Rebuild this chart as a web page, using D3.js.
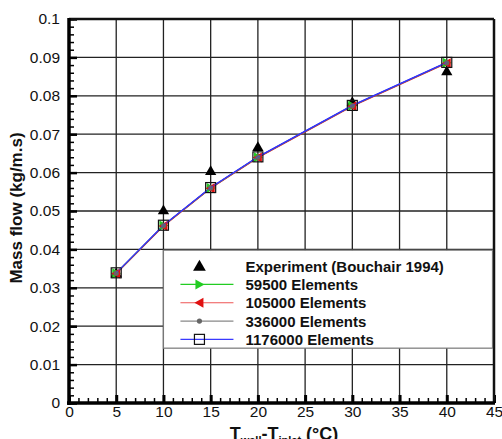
<!DOCTYPE html>
<html>
<head>
<meta charset="utf-8">
<script src="https://cdn.jsdelivr.net/npm/d3@7"></script>
<style>
  body { margin: 0; background: #fff; }
  svg { display: block; font-family: "Liberation Sans", Arial, sans-serif; }
</style>
</head>
<body>
<svg width="502" height="439"></svg>
<script>
// Data
var tempDiff = [5, 10, 15, 20, 30, 40];
var experiment = [0.0336, 0.0500, 0.0602, 0.0665, 0.0782, 0.0862];
var elem59500 = [0.0338, 0.0462, 0.0560, 0.0640, 0.0774, 0.0886];
var elem105000 = [0.0337, 0.0461, 0.0559, 0.0639, 0.0773, 0.0885];
var elem336000 = [0.0338, 0.0462, 0.0560, 0.0640, 0.0774, 0.0886];
var elem1176000 = [0.0339, 0.0463, 0.0561, 0.0641, 0.0775, 0.0887];
var xTicks = [0, 5, 10, 15, 20, 25, 30, 35, 40, 45];
var yTicks = [0, 0.01, 0.02, 0.03, 0.04, 0.05, 0.06, 0.07, 0.08, 0.09, 0.1];
var legendNames = ["Experiment (Bouchair 1994)", "59500 Elements", "105000 Elements", "336000 Elements", "1176000 Elements"];

var svg = d3.select('svg');
var padding = {t: 19, r: 8, b: 36, l: 69};
var chartWidth = 494 - padding.l;
var chartHeight = 403 - padding.t;

var chartG = svg.append('g')
    .attr('transform', 'translate(' + [padding.l, padding.t] + ')');

var xScale = d3.scaleLinear().domain([0, 45]).range([0, chartWidth]);
var yScale = d3.scaleLinear().domain([0, 0.1]).range([chartHeight, 0]);

// grid lines
chartG.append('g').selectAll('line.vg')
    .data(xTicks.slice(1, -1))
    .enter().append('line')
    .attr('x1', d => xScale(d)).attr('x2', d => xScale(d))
    .attr('y1', 0).attr('y2', chartHeight)
    .attr('stroke', '#222').attr('stroke-width', 1.3);
chartG.append('g').selectAll('line.hg')
    .data(yTicks.slice(1, -1))
    .enter().append('line')
    .attr('y1', d => yScale(d)).attr('y2', d => yScale(d))
    .attr('x1', 0).attr('x2', chartWidth)
    .attr('stroke', '#222').attr('stroke-width', 1.3);

// axes: ticks point inward
var xAxisG = chartG.append('g')
    .attr('class', 'x axis')
    .attr('transform', 'translate(' + [0, chartHeight] + ')')
    .call(d3.axisBottom(xScale).tickValues(d3.range(0, 46, 1)).tickSize(-5).tickFormat(''));
xAxisG.selectAll('.tick line').attr('stroke-width', 1.5);
var xMajor = chartG.append('g')
    .attr('transform', 'translate(' + [0, chartHeight] + ')')
    .call(d3.axisBottom(xScale).tickValues(xTicks).tickSize(-8).tickPadding(3).tickFormat(d3.format('d')));
xMajor.selectAll('.tick line').attr('stroke-width', 3);
xMajor.selectAll('.tick text').attr('font-size', 15.5).attr('fill', '#111').attr('font-family', '"Liberation Sans", Arial, sans-serif');
xMajor.select('.domain').remove();
xAxisG.select('.domain').remove();

var yAxisG = chartG.append('g')
    .attr('class', 'y axis')
    .call(d3.axisLeft(yScale).tickValues(d3.range(0, 0.1001, 0.002)).tickSize(-5).tickFormat(''));
yAxisG.selectAll('.tick line').attr('stroke-width', 1.5);
yAxisG.select('.domain').remove();
var yMajor = chartG.append('g')
    .call(d3.axisLeft(yScale).tickValues(yTicks).tickSize(-8).tickPadding(9).tickFormat(d => d === 0 ? '0' : d3.format('.2~f')(d)));
yMajor.selectAll('.tick line').attr('stroke-width', 2.5);
yMajor.selectAll('.tick text').attr('font-size', 15.5).attr('fill', '#111').attr('font-family', '"Liberation Sans", Arial, sans-serif');
yMajor.select('.domain').remove();

// frame
chartG.append('line').attr('x1', chartWidth).attr('x2', chartWidth).attr('y1', 0).attr('y2', chartHeight)
    .attr('stroke', '#111').attr('stroke-width', 2.5);
chartG.append('line').attr('x1', 0).attr('x2', chartWidth).attr('y1', 0).attr('y2', 0)
    .attr('stroke', '#111').attr('stroke-width', 2.5);
chartG.append('line').attr('x1', 0).attr('x2', 0).attr('y1', -1).attr('y2', chartHeight + 2)
    .attr('stroke', '#000').attr('stroke-width', 3.5);
chartG.append('line').attr('x1', -2).attr('x2', chartWidth + 1).attr('y1', chartHeight).attr('y2', chartHeight)
    .attr('stroke', '#000').attr('stroke-width', 3.5);

// series
var line = d3.line().x(d => xScale(d[0])).y(d => yScale(d[1]));
function pts(vals) { return tempDiff.map((t, i) => [t, vals[i]]); }

var triUp = d3.symbol().type(d3.symbolTriangle).size(55);
var seriesStyles = [
    {vals: elem59500, color: '#22cc22', width: 1.2},
    {vals: elem105000, color: '#e02020', width: 1.2},
    {vals: elem336000, color: '#777', width: 1.2},
    {vals: elem1176000, color: '#2a2aff', width: 1.2}
];

// experiment (drawn underneath)
chartG.append('g').selectAll('path')
    .data(pts(experiment))
    .enter().append('path')
    .attr('d', triUp)
    .attr('transform', d => 'translate(' + [xScale(d[0]), yScale(d[1])] + ')')
    .attr('fill', '#000');

seriesStyles.forEach(function(s) {
    chartG.append('path')
        .datum(pts(s.vals))
        .attr('d', line)
        .attr('fill', 'none')
        .attr('stroke', s.color)
        .attr('stroke-width', s.width);
});

function drawMarker(g, kind, x, y) {
    if (kind === 0) {
        g.append('path').attr('d', 'M-4,-5L5,0L-4,5Z')
            .attr('transform', 'translate(' + [x, y] + ')').attr('fill', '#22cc22');
    } else if (kind === 1) {
        g.append('path').attr('d', 'M4,-5L-5,0L4,5Z')
            .attr('transform', 'translate(' + [x, y] + ')').attr('fill', '#e01010');
    } else if (kind === 2) {
        g.append('circle').attr('cx', x).attr('cy', y).attr('r', 2.6).attr('fill', '#666');
    } else if (kind === 3) {
        g.append('rect').attr('x', x - 5).attr('y', y - 5).attr('width', 10).attr('height', 10)
            .attr('fill', 'none').attr('stroke', '#111').attr('stroke-width', 1.2);
    } else {
        g.append('path').attr('d', d3.symbol().type(d3.symbolTriangle).size(70)())
            .attr('transform', 'translate(' + [x, y + 1] + ')').attr('fill', '#000');
    }
}

var markG = chartG.append('g');
seriesStyles.forEach(function(s, k) {
    pts(s.vals).forEach(function(d) {
        drawMarker(markG, k, xScale(d[0]), yScale(d[1]));
    });
});
// blue line on top through the markers
chartG.append('path')
    .datum(pts(elem1176000))
    .attr('d', line)
    .attr('fill', 'none')
    .attr('stroke', '#3a3aff')
    .attr('stroke-width', 0.8)
    .attr('stroke-opacity', 0.7);

// legend
var legend = chartG.append('g').attr('transform', 'translate(' + [xScale(10), yScale(0.0398)] + ')');
legend.append('rect')
    .attr('x', 0).attr('y', 0)
    .attr('width', chartWidth - xScale(10) - 1.5)
    .attr('height', 98)
    .attr('fill', '#fff')
    .attr('stroke', '#777').attr('stroke-width', 1.2);
var legendColors = [null, '#22cc22', '#ee5555', '#888', '#3a3aff'];
legendNames.forEach(function(name, i) {
    var ly = 16 + i * 18.3;
    var row = legend.append('g');
    if (legendColors[i]) {
        row.append('line').attr('x1', 17).attr('x2', 70).attr('y1', ly).attr('y2', ly)
            .attr('stroke', legendColors[i]).attr('stroke-width', 1.2);
    }
    drawMarker(row, i === 0 ? 4 : i - 1, 36, ly);
    row.append('text')
        .attr('x', 82).attr('y', ly + 5.5)
        .attr('font-size', 15).attr('font-weight', 'bold').attr('fill', '#111')
        .text(name);
});

// axis titles
svg.append('text')
    .attr('transform', 'translate(22,' + (padding.t + chartHeight / 2 - 3) + ') rotate(-90)')
    .attr('text-anchor', 'middle')
    .attr('font-size', 17).attr('font-weight', 'bold').attr('fill', '#111')
    .text('Mass flow (kg/m.s)');

var xt = svg.append('text')
    .attr('x', 284).attr('y', 440)
    .attr('text-anchor', 'middle')
    .attr('font-size', 18).attr('font-weight', 'bold').attr('fill', '#111');
xt.append('tspan').text('T');
xt.append('tspan').attr('font-size', 11).attr('dy', 4).text('wall');
xt.append('tspan').attr('dy', -4).text('-T');
xt.append('tspan').attr('font-size', 11).attr('dy', 4).text('inlet');
xt.append('tspan').attr('dy', -4).text(' (°C)');
</script>
</body>
</html>
